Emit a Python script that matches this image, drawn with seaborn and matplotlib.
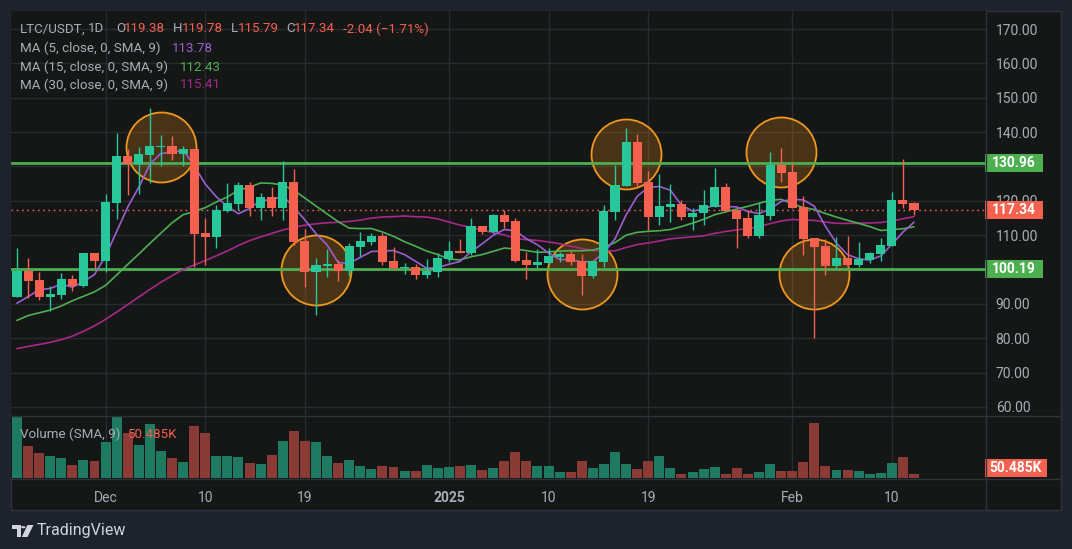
import numpy as np
import pandas as pd
import matplotlib
matplotlib.use("Agg")
import matplotlib.pyplot as plt
import seaborn as sns
from matplotlib.patches import Rectangle, Polygon, Circle
from matplotlib.lines import Line2D
from matplotlib.transforms import blended_transform_factory

# ---------------- data ----------------
dates = pd.date_range("2024-11-23", periods=82, freq="D")

opens = [92.1, 99.6, 97.0, 92.1, 92.6, 97.3, 95.2, 104.8, 102.6, 119.5,
         133.0, 130.8, 133.4, 135.6, 135.9, 133.6, 135.1, 110.6, 109.5, 117.0,
         119.1, 124.6, 118.0, 121.1, 118.0, 125.5, 108.3, 99.4, 101.1, 101.6,
         99.7, 106.6, 108.0, 109.8, 102.5, 100.5, 100.7, 98.5, 99.4, 103.1,
         105.4, 104.8, 112.7, 111.0, 115.9, 114.1, 102.8, 101.4, 102.0, 103.7,
         104.5, 102.5, 98.2, 102.3, 116.8, 124.4, 137.1, 125.5, 115.4, 118.3,
         119.1, 115.4, 116.4, 118.3, 124.0, 117.3, 115.0, 109.8, 115.7, 130.4,
         128.4, 118.2, 109.2, 106.8, 101.1, 103.4, 101.4, 102.9, 104.6, 106.9,
         120.3, 119.38]
highs = [106.3, 103.4, 99.3, 95.2, 99.0, 98.5, 104.8, 104.8, 122.0, 139.7,
         135.1, 135.7, 147.0, 139.2, 138.9, 135.9, 135.1, 115.0, 118.8, 125.2,
         125.5, 125.5, 122.3, 124.0, 131.6, 129.3, 111.8, 103.4, 106.0, 102.8,
         107.6, 110.9, 110.6, 110.6, 106.6, 101.9, 101.6, 103.1, 104.8, 108.3,
         109.0, 115.0, 112.7, 116.2, 117.3, 115.0, 105.1, 106.0, 106.3, 105.1,
         105.4, 104.5, 102.5, 118.8, 130.4, 141.2, 139.4, 128.7, 127.8, 124.9,
         120.3, 117.9, 123.1, 129.5, 125.2, 117.3, 117.3, 119.4, 134.2, 135.4,
         131.3, 121.4, 109.2, 108.9, 109.5, 109.8, 108.0, 105.1, 109.2, 122.6,
         132.2, 119.78]
lows = [92.1, 91.8, 91.2, 88.0, 91.4, 93.8, 95.0, 100.3, 99.4, 114.8,
        121.7, 122.1, 125.3, 130.1, 131.9, 130.1, 100.8, 101.3, 106.4, 116.8,
        117.3, 115.7, 114.5, 115.7, 114.5, 107.1, 95.0, 86.9, 97.9, 96.8,
        98.2, 103.9, 107.1, 101.3, 100.0, 98.8, 97.1, 97.6, 97.9, 102.2,
        104.8, 104.2, 110.2, 110.7, 112.2, 102.3, 97.3, 100.3, 101.6, 102.3,
        101.4, 92.7, 97.6, 100.8, 114.5, 124.4, 124.1, 111.6, 113.1, 113.9,
        114.5, 111.6, 113.1, 118.3, 117.0, 106.4, 109.3, 109.3, 114.5, 125.5,
        118.0, 104.3, 80.2, 98.5, 100.5, 100.8, 100.8, 102.0, 102.6, 106.9,
        118.0, 115.79]
closes = [99.6, 96.8, 92.1, 92.9, 97.3, 95.2, 104.8, 102.6, 119.7, 133.0,
          130.8, 133.6, 135.9, 135.9, 133.6, 135.1, 110.4, 109.5, 117.3, 119.4,
          124.6, 118.0, 121.1, 118.0, 125.5, 108.1, 99.4, 101.3, 101.6, 99.7,
          106.8, 108.3, 109.8, 102.3, 100.5, 100.8, 98.5, 99.6, 103.4, 105.4,
          104.8, 112.7, 111.0, 115.9, 113.9, 102.6, 101.4, 102.2, 103.9, 104.5,
          102.3, 98.2, 102.5, 117.0, 124.6, 137.1, 125.3, 115.4, 118.5, 119.1,
          115.4, 116.5, 118.8, 124.0, 117.0, 114.8, 109.8, 115.9, 130.4, 128.1,
          118.0, 109.0, 106.7, 101.1, 103.4, 101.4, 103.1, 104.8, 107.1, 120.3,
          119.1, 117.34]
volumes_k = [770, 404, 316, 278, 253, 164, 227, 215, 455, 770,
             568, 417, 682, 341, 253, 202, 657, 568, 278, 278,
             265, 189, 177, 290, 467, 594, 467, 455, 278, 189,
             227, 152, 114, 152, 139, 88, 88, 164, 126, 139,
             152, 164, 101, 126, 215, 328, 215, 152, 152, 76,
             76, 215, 126, 177, 328, 177, 114, 215, 278, 126,
             51, 76, 114, 139, 51, 126, 51, 76, 177, 88,
             88, 202, 695, 152, 101, 101, 88, 51, 63, 189,
             265, 50.485]
ma5 = [90.2, 92.1, 94.1, 94.5, 95.74, 94.86, 96.46, 98.56, 103.92, 111.06,
       118.18, 123.94, 130.6, 133.84, 133.96, 134.82, 130.18, 124.9, 121.18, 118.34,
       116.24, 117.76, 120.08, 120.22, 121.44, 118.14, 114.42, 110.46, 107.18, 102.02,
       101.76, 103.54, 105.24, 105.38, 105.54, 104.34, 102.38, 100.34, 100.56, 101.54,
       102.34, 105.18, 107.46, 109.96, 111.66, 111.22, 108.96, 107.2, 104.8, 102.92,
       102.86, 102.22, 102.28, 104.9, 108.92, 115.88, 121.3, 123.88, 124.18, 123.08,
       118.74, 116.98, 117.66, 118.76, 118.34, 118.22, 116.88, 116.3, 117.58, 119.8,
       120.44, 120.28, 118.44, 112.58, 107.64, 104.32, 103.14, 102.76, 103.96, 107.34,
       110.88, 113.78]
ma15 = [85.2, 86.6, 87.4, 88.2, 89.4, 90.9, 92.2, 93.5, 95.4, 98.4,
        101.5, 104.5, 107.6, 110.6, 113.59, 115.95, 116.86, 118.02, 119.65, 121.12,
        123.08, 123.96, 125.19, 125.08, 124.58, 123.07, 120.79, 118.48, 116.19, 113.93,
        112.05, 111.91, 111.93, 110.93, 109.67, 108.08, 106.78, 105.35, 104.37, 103.03,
        102.81, 103.7, 104.35, 105.3, 106.25, 105.97, 105.51, 105.0, 105.11, 105.37,
        105.47, 105.45, 105.65, 106.55, 107.83, 109.99, 110.83, 111.12, 111.29, 111.64,
        112.49, 113.5, 114.61, 115.95, 116.78, 117.61, 118.39, 119.28, 120.17, 120.41,
        119.13, 118.05, 117.47, 116.31, 115.26, 114.33, 113.43, 112.5, 111.37, 111.59,
        111.88, 112.43]
ma30 = [77.0, 77.6, 78.2, 78.8, 79.6, 80.6, 82.0, 83.6, 85.5, 87.6,
        89.8, 92.0, 94.2, 96.3, 98.2, 100.0, 101.3, 102.6, 104.0, 105.4,
        107.0, 108.4, 109.5, 110.5, 111.5, 112.3, 112.9, 113.3, 113.6, 113.76,
        114.0, 114.38, 114.97, 115.29, 115.39, 115.58, 115.37, 115.27, 114.73, 113.81,
        112.94, 112.24, 111.41, 110.75, 110.09, 109.01, 108.71, 108.46, 108.02, 107.52,
        106.78, 106.12, 105.5, 105.46, 105.43, 106.4, 107.26, 107.73, 108.3, 108.94,
        109.23, 109.5, 109.8, 110.53, 111.08, 111.54, 111.92, 112.46, 113.36, 114.12,
        114.56, 114.44, 114.29, 113.8, 113.45, 113.41, 113.47, 113.55, 113.66, 114.19,
        114.75, 115.41]

resistance = 130.96
support = 100.19
last_price = 117.34
volume_label = "50.485K"

highlight_dates = ["2024-12-06", "2024-12-20", "2025-01-13", "2025-01-17", "2025-01-31", "2025-02-03"]
highlight_prices = [135.6, 99.8, 98.6, 133.6, 134.2, 98.6]

tick_dates = ["2024-12-01", "2024-12-10", "2024-12-19", "2025-01-01",
              "2025-01-10", "2025-01-19", "2025-02-01", "2025-02-10"]
tick_labels = ["Dec", "10", "19", "2025", "10", "19", "Feb", "10"]
price_ticks = [60, 70, 80, 90, 100, 110, 120, 130, 140, 150, 160, 170]

# ---------------- style ----------------
sns.set_theme(style="dark")
plt.rcParams["font.family"] = ["Roboto", "DejaVu Sans"]

BG_OUT = "#1e222d"
BG = "#151717"
GRID = "#282b2f"
SEP = "#2e323b"
TXT = "#aaadb5"
UP = "#27c79a"
DOWN = "#f5604f"
VUP = "#1e7b61"
VDOWN = "#8b3b35"
LVL = "#4caf50"
C_MA5 = "#9b5fd0"
C_MA15 = "#4caf50"
C_MA30 = "#a8278a"
FS = 10
HFS = 9.6

W, H = 1072, 549
fig = plt.figure(figsize=(W / 100, H / 100), dpi=100, facecolor=BG_OUT)


def fx(px):
    return px / W


def fy(py):
    return 1 - py / H


panel = Rectangle((fx(11), fy(510)), fx(1061) - fx(11), fy(11) - fy(510),
                  transform=fig.transFigure, facecolor=BG, edgecolor=SEP,
                  lw=1, zorder=-5)
fig.add_artist(panel)

ax = fig.add_axes([fx(11), fy(415), fx(986) - fx(11), fy(11) - fy(415)])
axv = fig.add_axes([fx(11), fy(478), fx(986) - fx(11), fy(416) - fy(478)], sharex=ax)

n = len(closes)
idx = np.arange(1, n + 1)
date_pos = {d.strftime("%Y-%m-%d"): i for d, i in zip(dates, idx)}
tick_pos = [date_pos[d] for d in tick_dates]

o = np.array(opens); c = np.array(closes)
hi = np.array(highs); lo = np.array(lows)
up = c >= o
col = np.where(up, UP, DOWN)

for a in (ax, axv):
    a.set_facecolor(BG)
    for s in a.spines.values():
        s.set_visible(False)
    a.set_xticks(tick_pos)
    a.grid(True, axis="x", color=GRID, lw=1, zorder=0)

ax.set_xlim(0.46, 88.5)
ax.set_ylim(57.66, 175.24)
ax.set_yticks(price_ticks)
# labels at the two level lines are hidden behind their price boxes, as in the reference
ax.set_yticklabels(["" if v in (100, 130) else f"{v:.2f}" for v in price_ticks])
ax.yaxis.tick_right()
ax.tick_params(axis="y", length=0, pad=7, labelsize=FS, labelcolor=TXT)
ax.tick_params(axis="x", length=0, labelbottom=False)
ax.grid(True, axis="y", color=GRID, lw=1, zorder=0)

# highlight circles
hx = [date_pos[d] for d in highlight_dates]
ax.scatter(hx, highlight_prices, s=2540, facecolor=(0.97, 0.58, 0.10, 0.23),
           edgecolor="#f0971d", linewidths=1.3, zorder=1)

# support / resistance and last price
ax.axhline(resistance, color=LVL, lw=2, zorder=2)
ax.axhline(support, color=LVL, lw=2, zorder=2)
ax.axhline(last_price, color=DOWN, lw=1, ls=(0, (1.2, 2.6)), zorder=2)

# moving averages
sns.lineplot(x=idx, y=ma30, ax=ax, color=C_MA30, lw=1.2, legend=False, zorder=3)
sns.lineplot(x=idx, y=ma15, ax=ax, color=C_MA15, lw=1.2, legend=False, zorder=3)
sns.lineplot(x=idx, y=ma5, ax=ax, color=C_MA5, lw=1.2, legend=False, zorder=3)

# candles
ax.vlines(idx, lo, hi, colors=col, lw=1.0, zorder=4)
body_bottom = np.minimum(o, c)
body_h = np.maximum(np.abs(c - o), 0.35)
ax.bar(idx, body_h, bottom=body_bottom, width=0.82, color=col, lw=0, zorder=5)
ax.set_xlabel(""); ax.set_ylabel("")

# volume
vcol = np.where(up, VUP, VDOWN)
axv.bar(idx, volumes_k, width=0.9, color=vcol, lw=0, zorder=2)
axv.set_ylim(0, 783)
axv.set_yticks([])
axv.set_xticklabels(tick_labels)
axv.tick_params(axis="x", length=0, pad=9, labelsize=FS, labelcolor=TXT)
for lab in axv.get_xticklabels():
    if lab.get_text() == "2025":
        lab.set_fontweight("bold")
axv.set_xlabel(""); axv.set_ylabel("")

# price-axis labels
bt = blended_transform_factory(ax.transAxes, ax.transData)
for val, fc in ((resistance, LVL), (last_price, DOWN), (support, LVL)):
    hgt = 18 / 3.436
    ax.add_patch(Rectangle((974 / 975, val - hgt / 2), 58 / 975, hgt, transform=bt,
                           facecolor=fc, edgecolor="none", clip_on=False, zorder=20))
    ax.text((1014 - 11) / 975, val, f"{val:.2f}", transform=bt, ha="center",
            va="center", color="white", fontsize=FS, fontweight="bold",
            clip_on=False, zorder=21)
axv.add_patch(Rectangle((974 / 975, (478 - 477) / 62), 62 / 975, 18 / 62,
                        transform=axv.transAxes, facecolor=DOWN, edgecolor="none",
                        clip_on=False, zorder=20))
axv.text((1016 - 11) / 975, (478 - 468) / 62, volume_label, transform=axv.transAxes,
         ha="center", va="center", color="white", fontsize=FS, fontweight="bold",
         clip_on=False, zorder=21)

# separators
for (x0, y0, x1, y1) in ((11, 415.5, 1061, 415.5), (11, 478.5, 1061, 478.5),
                         (986, 11, 986, 510)):
    fig.add_artist(Line2D([fx(x0), fx(x1)], [fy(y0), fy(y1)], color=SEP, lw=1,
                          transform=fig.transFigure, zorder=6))


# header legend text
def ft(x, y, s, color=TXT, size=HFS, **kw):
    fig.text(fx(x), fy(y), s, color=color, fontsize=size, va="center", ha="left", **kw)


ft(20, 29, "LTC/USDT"); ft(82, 29, ","); ft(88, 29, "1D")
ft(116, 29, "O"); ft(124, 29, "119.38", DOWN)
ft(173, 29, "H"); ft(182, 29, "119.78", DOWN)
ft(231, 29, "L"); ft(238, 29, "115.79", DOWN)
ft(286, 29, "C"); ft(294, 29, "117.34", DOWN)
ft(343, 29, "-2.04 (\u22121.71%)", DOWN)
ft(20, 48, "MA (5, close, 0, SMA, 9)"); ft(172, 48, "113.78", C_MA5)
ft(20, 67, "MA (15, close, 0, SMA, 9)"); ft(180, 67, "112.43", C_MA15)
ft(20, 85, "MA (30, close, 0, SMA, 9)"); ft(180, 85, "115.41", C_MA30)
ft(20, 434, "Volume (SMA, 9)"); ft(127, 434, volume_label, DOWN)

# TradingView logo
LOGO = "#d1d4dc"
fig.add_artist(Polygon([(fx(11.5), fy(525)), (fx(20.5), fy(525)), (fx(20.5), fy(537)),
                        (fx(16.5), fy(537)), (fx(16.5), fy(529)), (fx(11.5), fy(529))],
                       closed=True, transform=fig.transFigure, facecolor=LOGO,
                       edgecolor="none", zorder=7))
fig.add_artist(Circle((fx(23.3), fy(527.2)), 2.2 / W, transform=fig.transFigure,
                      facecolor=LOGO, edgecolor="none", zorder=7))
fig.add_artist(Polygon([(fx(27.5), fy(525)), (fx(33.5), fy(525)), (fx(27.5), fy(537)),
                        (fx(21.8), fy(537))], closed=True, transform=fig.transFigure,
                       facecolor=LOGO, edgecolor="none", zorder=7))
ft(37, 531, "TradingView", LOGO, size=11.5)

fig.savefig("out.png", dpi=100, facecolor=BG_OUT)
